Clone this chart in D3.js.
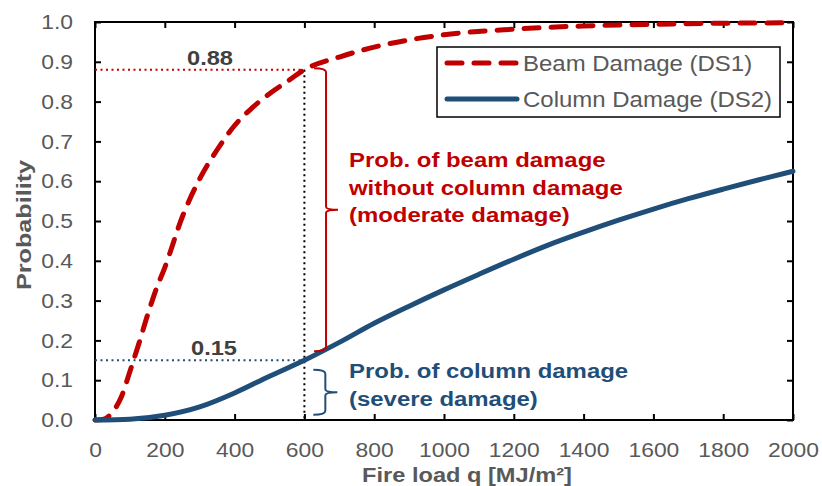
<!DOCTYPE html>
<html>
<head>
<meta charset="utf-8">
<script src="https://cdn.jsdelivr.net/npm/d3@7"></script>
<style>
  body { margin: 0; background: #fff; }
  text { font-family: Arial, "Liberation Sans", sans-serif; }
</style>
</head>
<body>
<svg id="fragility" width="822" height="486"></svg>
<script>
// fire load values (MJ/m2)
const beamQ = [0, 25, 50, 75, 100, 125, 150, 175, 200, 250, 300, 350, 400, 450, 500, 550, 600, 700, 800, 900, 1000, 1200, 1400, 1600, 1800, 2000];
const beamP = [0, 0.002, 0.02, 0.057, 0.122, 0.19, 0.262, 0.328, 0.383, 0.51, 0.606, 0.679, 0.74, 0.784, 0.82, 0.85, 0.88, 0.912, 0.937, 0.955, 0.968, 0.982, 0.99, 0.994, 0.997, 0.998];

const columnQ = [0, 100, 200, 300, 400, 500, 600, 700, 800, 900, 1000, 1100, 1200, 1300, 1400, 1500, 1600, 1700, 1800, 1900, 2000];
const columnP = [0, 0.002, 0.012, 0.033, 0.068, 0.11, 0.15, 0.195, 0.243, 0.286, 0.327, 0.366, 0.404, 0.44, 0.472, 0.502, 0.53, 0.556, 0.58, 0.603, 0.625];

const xTicks = [0, 200, 400, 600, 800, 1000, 1200, 1400, 1600, 1800, 2000];
const yTicks = [0, 0.1, 0.2, 0.3, 0.4, 0.5, 0.6, 0.7, 0.8, 0.9, 1.0];

const seriesNames = ["Beam Damage (DS1)", "Column Damage (DS2)"];

// annotation values
const markQ = 600;
const beamAtMark = 0.88;
const columnAtMark = 0.15;
const beamNote = ["Prob. of beam damage", "without column damage", "(moderate damage)"];
const columnNote = ["Prob. of column damage", "(severe damage)"];

var svg = d3.select("#fragility");
const width = +svg.attr("width");
const height = +svg.attr("height");

const plotLeft = 95, plotRight = 793, plotTop = 22, plotBottom = 420;
const red = "#C00000";
const blue = "#1F4E79";
const gray = "#595959";

var x = d3.scaleLinear().domain([0, 2000]).range([plotLeft, plotRight]);
var y = d3.scaleLinear().domain([0, 1]).range([plotBottom, plotTop]);

// text in the original is a little wider than plain Arial, so stretch it sideways
const addText = (tx, ty, str, size, bold, color, sx, rot) => {
    return svg.append("text")
        .attr("transform", "translate(" + tx + "," + ty + ")" + (rot ? "rotate(" + rot + ")" : "") + "scale(" + sx + ",1)")
        .attr("fill", color)
        .style("font-size", size + "px")
        .style("font-weight", bold ? "bold" : "normal")
        .text(str);
};

//axes, ticks point inward on all four sides
svg.append("g")
    .attr("transform", "translate(0," + plotBottom + ")")
    .call(d3.axisBottom(x).tickValues(xTicks).tickSize(-6).tickPadding(22).tickFormat(d3.format("d")))
    .call(g => g.select(".domain").remove());
svg.append("g")
    .attr("transform", "translate(0," + plotTop + ")")
    .call(d3.axisTop(x).tickValues(xTicks).tickSize(-6).tickFormat(""))
    .call(g => g.select(".domain").remove());
svg.append("g")
    .attr("transform", "translate(" + plotLeft + ",0)")
    .call(d3.axisLeft(y).tickValues(yTicks).tickSize(-6).tickPadding(22).tickFormat(d3.format(".1f")))
    .call(g => g.select(".domain").remove());
svg.append("g")
    .attr("transform", "translate(" + plotRight + ",0)")
    .call(d3.axisRight(y).tickValues(yTicks).tickSize(-6).tickFormat(""))
    .call(g => g.select(".domain").remove());

svg.selectAll(".tick line").attr("stroke", "#000").attr("stroke-width", 2);
svg.selectAll(".tick text")
    .attr("fill", gray).style("font-size", "21px")
    .each(function () {
        let t = d3.select(this);
        let tx = +t.attr("x") || 0;
        t.attr("transform", "translate(" + tx + ",0)scale(1.09,1)translate(" + (-tx) + ",0)");
    });

// frame
svg.append("rect")
    .attr("x", plotLeft).attr("y", plotTop)
    .attr("width", plotRight - plotLeft).attr("height", plotBottom - plotTop)
    .attr("fill", "none").attr("stroke", "#000").attr("stroke-width", 2);

// axis titles
addText(467, 482, "Fire load q [MJ/m²]", 21, true, gray, 1.125).attr("text-anchor", "middle");
addText(31, 225, "Probability", 21, true, gray, 1.2, -90).attr("text-anchor", "middle");

// dotted guide lines
svg.append("line")
    .attr("x1", x(0)).attr("x2", x(markQ))
    .attr("y1", y(beamAtMark)).attr("y2", y(beamAtMark))
    .attr("stroke", red).attr("stroke-width", 2).attr("stroke-dasharray", "2,3.5");
svg.append("line")
    .attr("x1", x(0)).attr("x2", x(markQ))
    .attr("y1", y(columnAtMark)).attr("y2", y(columnAtMark))
    .attr("stroke", blue).attr("stroke-width", 2).attr("stroke-dasharray", "2,3.5");
svg.append("line")
    .attr("x1", x(markQ)).attr("x2", x(markQ))
    .attr("y1", y(beamAtMark)).attr("y2", y(0))
    .attr("stroke", "#000").attr("stroke-width", 2).attr("stroke-dasharray", "2,3.5");

// value labels
addText(210, y(beamAtMark) - 5, beamAtMark.toFixed(2), 21, true, "#404040", 1.125).attr("text-anchor", "middle");
addText(214, y(columnAtMark) - 5, columnAtMark.toFixed(2), 21, true, "#404040", 1.125).attr("text-anchor", "middle");

// curves
var line = d3.line()
    .x(d => x(d[0]))
    .y(d => y(d[1]))
    .curve(d3.curveMonotoneX);

svg.append("path")
    .datum(beamQ.map((q, i) => [q, beamP[i]]))
    .attr("d", line)
    .attr("fill", "none").attr("stroke", red).attr("stroke-width", 5)
    .attr("stroke-linecap", "round").attr("stroke-dasharray", "15,12");

svg.append("path")
    .datum(columnQ.map((q, i) => [q, columnP[i]]))
    .attr("d", line)
    .attr("fill", "none").attr("stroke", blue).attr("stroke-width", 5)
    .attr("stroke-linecap", "round");

// curly brackets
const bracket = (xb, y1, y2, color) => {
    let ym = (y1 + y2) / 2;
    let p = d3.path();
    p.moveTo(xb - 12, y1);
    p.quadraticCurveTo(xb, y1, xb, y1 + 4);
    p.lineTo(xb, ym - 3);
    p.quadraticCurveTo(xb, ym, xb + 12, ym);
    p.quadraticCurveTo(xb, ym, xb, ym + 3);
    p.lineTo(xb, y2 - 4);
    p.quadraticCurveTo(xb, y2, xb - 12, y2);
    svg.append("path")
        .attr("d", p.toString())
        .attr("fill", "none").attr("stroke", color).attr("stroke-width", 2);
};
bracket(x(662), y(0.884), y(0.173), red);
bracket(x(660), y(0.126), y(0.013), blue);

// bracket notes
beamNote.forEach((t, i) => {
    addText(349, 167 + i * 27.5, t, 21, true, red, 1.14);
});
columnNote.forEach((t, i) => {
    addText(349, 378 + i * 27.5, t, 21, true, blue, 1.14);
});

// legend
svg.append("rect")
    .attr("x", 437).attr("y", 47).attr("width", 343).attr("height", 70)
    .attr("fill", "#fff").attr("stroke", "#000").attr("stroke-width", 1.5);
seriesNames.forEach((name, i) => {
    let ly = 63 + i * 36;
    svg.append("line")
        .attr("x1", 447).attr("x2", 517).attr("y1", ly).attr("y2", ly)
        .attr("stroke", i == 0 ? red : blue).attr("stroke-width", 5)
        .attr("stroke-linecap", "round")
        .attr("stroke-dasharray", i == 0 ? "15,12" : null);
    addText(523, ly + 8, name, 22, false, gray, 1.09);
});
</script>
</body>
</html>
